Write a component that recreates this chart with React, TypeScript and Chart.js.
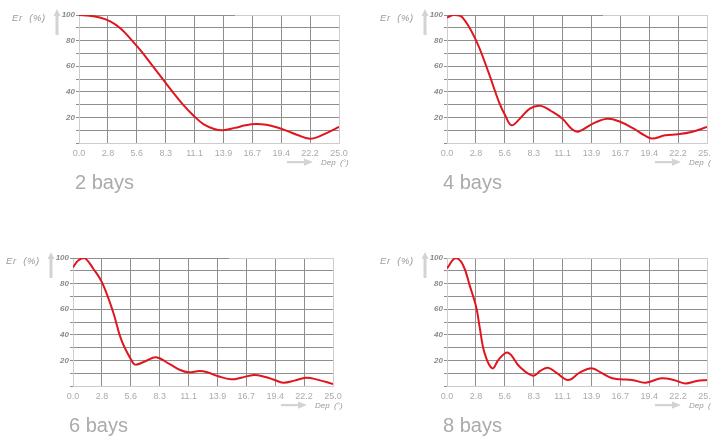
import React, { useEffect, useRef } from "react";
import { Chart, registerables } from "chart.js";

Chart.register(...registerables);

// ---------- data ----------
const X_MAX = 25;
const X_TICK_LABELS = ["0.0", "2.8", "5.6", "8.3", "11.1", "13.9", "16.7", "19.4", "22.2", "25.0"];
const Y_TICK_VALUES = [0, 10, 20, 30, 40, 50, 60, 70, 80, 90, 100];
const Y_TICK_LABELS = ["", "", "20", "", "40", "", "60", "", "80", "", "100"];

const TITLES = ["2 bays", "4 bays", "6 bays", "8 bays"];
const Y_AXIS_TITLE = "Er  (%)";
const X_AXIS_TITLE = "Dep  (°)";

const DEP_2BAYS = [0, 1, 2, 3, 4, 5, 6, 7, 8, 9, 10, 11, 12, 13, 13.8, 15, 16, 17, 18, 19, 20, 21, 22.2, 23, 24, 25];
const ER_2BAYS = [100, 99.5, 98, 95, 89.5, 81, 71.5, 61, 50.5, 40, 30, 21.5, 14.5, 11, 10, 11.8, 13.8, 14.8, 14.2, 12.3, 9.5, 6.3, 3.4, 4.8, 8.5, 12.5];

const DEP_4BAYS = [0, 0.7, 1.5, 2.8, 4, 5, 5.6, 6.2, 7, 8, 9, 10, 11.1, 12, 12.6, 13.9, 15.4, 16.7, 18, 19, 19.7, 21, 22.2, 23.5, 25];
const ER_4BAYS = [98, 100, 98, 80, 55, 32, 21.5, 13.8, 19, 27, 29, 25, 19, 11, 8.8, 14.6, 19, 16.4, 11, 6, 3.5, 6, 6.8, 8.6, 12.5];

const DEP_6BAYS = [0, 0.5, 1.1, 2, 2.8, 3.85, 4.65, 5.6, 6, 7, 8, 9.3, 10.3, 11.1, 12.2, 13, 13.9, 15.2, 16.2, 17.4, 18.5, 19.4, 20.2, 21.3, 22.4, 23.5, 25];
const ER_6BAYS = [92.7, 98, 100, 91, 80.7, 58, 36, 20.3, 16.7, 19.5, 22.4, 17, 12.5, 10.7, 11.7, 10.5, 7.8, 5.2, 6.5, 8.6, 7, 4.7, 2.6, 4.2, 6.5, 5, 1.6];

const DEP_8BAYS = [0, 0.83, 1.54, 2.2, 2.8, 3.14, 3.62, 4.36, 5, 5.87, 6.99, 8.27, 9, 9.7, 10.5, 11.63, 12.76, 13.9, 14.9, 15.9, 16.7, 17.8, 19.1, 20.6, 21.8, 22.9, 24, 25];
const ER_8BAYS = [92, 100, 94.5, 78, 62, 46, 25.5, 13.8, 21, 26, 15, 8, 12, 14.3, 10.5, 4.7, 10.4, 13.8, 10, 6, 5.2, 4.7, 2.6, 6, 4.7, 2, 3.9, 4.7];

// ---------- layout ----------
const AREA_W = 260;
const AREA_H = 128;
const PAD_L = 60;
const PAD_T = 15;
const PAD_R = 25;
const PAD_B = 15;
const Y_AXIS_W = 28;
const X_AXIS_H = 20;
const CANVAS_W = PAD_L + AREA_W + PAD_R;
const CANVAS_H = PAD_T + AREA_H + X_AXIS_H + PAD_B;

const PANELS = [
  { title: TITLES[0], dep: DEP_2BAYS, er: ER_2BAYS, left: 79, top: 15, topDark: 0.6 },
  { title: TITLES[1], dep: DEP_4BAYS, er: ER_4BAYS, left: 447, top: 15, topDark: 0.6 },
  { title: TITLES[2], dep: DEP_6BAYS, er: ER_6BAYS, left: 73, top: 258, topDark: 0.6 },
  { title: TITLES[3], dep: DEP_8BAYS, er: ER_8BAYS, left: 447, top: 258, topDark: 0 },
];

const GRID_DARK = "#8e8e8e";
const GRID_LIGHT = "#cdcdcd";
const LINE_RED = "#e0161f";
const FONT = "'Liberation Sans', Arial, Helvetica, sans-serif";

const topLinePlugin = {
  id: "topLine",
  beforeDatasetsDraw(chart: any, _args: any, opts: any) {
    const frac = opts && opts.frac;
    if (!frac) return;
    const { left, right } = chart.chartArea;
    const y = Math.floor(chart.scales.y.getPixelForValue(100)) + 0.5;
    const ctx = chart.ctx;
    ctx.save();
    ctx.strokeStyle = GRID_DARK;
    ctx.lineWidth = 1;
    ctx.beginPath();
    ctx.moveTo(left, y);
    ctx.lineTo(left + (right - left) * frac, y);
    ctx.stroke();
    ctx.restore();
  },
};

function Panel({ spec }: { spec: (typeof PANELS)[number] }) {
  const ref = useRef<HTMLCanvasElement | null>(null);
  useEffect(() => {
    if (!ref.current) return;
    const nX = X_TICK_LABELS.length;
    const chart = new Chart(ref.current, {
      type: "line",
      data: {
        datasets: [
          {
            data: spec.dep.map((d, i) => ({ x: d, y: spec.er[i] })),
            borderColor: LINE_RED,
            borderWidth: 2,
            pointRadius: 0,
            tension: 0.4,
            fill: false,
          },
        ],
      },
      options: {
        animation: false,
        responsive: false,
        events: [],
        layout: {
          padding: { left: PAD_L - Y_AXIS_W, top: PAD_T, right: PAD_R, bottom: PAD_B },
        },
        plugins: {
          legend: { display: false },
          tooltip: { enabled: false },
          topLine: { frac: spec.topDark },
        } as any,
        scales: {
          x: {
            type: "linear",
            min: 0,
            max: X_MAX,
            afterBuildTicks: (s: any) => {
              s.ticks = X_TICK_LABELS.map((_, i) => ({ value: (i * X_MAX) / (nX - 1) }));
            },
            afterFit: (s: any) => {
              s.height = X_AXIS_H;
            },
            ticks: {
              autoSkip: false,
              maxRotation: 0,
              minRotation: 0,
              padding: 5,
              color: "#ababab",
              font: { family: FONT, size: 9 },
              callback: (_v: any, i: number) => X_TICK_LABELS[i],
            },
            grid: {
              drawTicks: false,
              lineWidth: 1,
              color: (c: any) =>
                c.index === 0 ? "rgba(0,0,0,0)" : c.index === nX - 1 ? GRID_LIGHT : GRID_DARK,
            },
            border: { color: GRID_LIGHT, width: 1 },
          },
          y: {
            type: "linear",
            min: 0,
            max: 100,
            afterBuildTicks: (s: any) => {
              s.ticks = Y_TICK_VALUES.map((v) => ({ value: v }));
            },
            afterFit: (s: any) => {
              s.width = Y_AXIS_W;
            },
            ticks: {
              autoSkip: false,
              padding: 1,
              color: "#8a8a8a",
              font: {
                family: "'Liberation Sans Narrow', 'Arial Narrow', 'Liberation Sans', Arial, sans-serif",
                size: 8,
                style: "italic",
                weight: "bold",
              },
              callback: (_v: any, i: number) => Y_TICK_LABELS[i],
            },
            grid: {
              drawTicks: true,
              tickLength: 3,
              lineWidth: 1,
              tickColor: GRID_DARK,
              color: (c: any) =>
                c.tick && c.tick.value === 0
                  ? "rgba(0,0,0,0)"
                  : c.tick && c.tick.value === 100
                  ? GRID_LIGHT
                  : GRID_DARK,
            },
            border: { color: GRID_LIGHT, width: 1 },
          },
        },
      } as any,
      plugins: [topLinePlugin],
    });
    return () => chart.destroy();
  }, [spec]);
  return (
    <canvas
      ref={ref}
      width={CANVAS_W}
      height={CANVAS_H}
      style={{
        position: "absolute",
        left: spec.left - PAD_L,
        top: spec.top - PAD_T,
        width: CANVAS_W,
        height: CANVAS_H,
      }}
    />
  );
}

function Overlay() {
  const arrowCol = "#d3d3d3";
  return (
    <svg
      width={711}
      height={436}
      style={{ position: "absolute", left: 0, top: 0, pointerEvents: "none" }}
    >
      {PANELS.map((p, k) => {
        const ax = p.left - 22;
        const dx = p.left + 208;
        const dy = p.top + 147;
        return (
          <g key={k}>
            <text
              x={p.left - 67}
              y={p.top + 5.5}
              fontFamily={FONT}
              fontSize={9.5}
              fontStyle="italic"
              fill="#9a9a9a"
              letterSpacing={0.6}
              style={{ whiteSpace: "pre" }}
            >
              {Y_AXIS_TITLE}
            </text>
            <polygon
              points={`${ax - 3.5},${p.top + 1} ${ax},${p.top - 6} ${ax + 3.5},${p.top + 1}`}
              fill={arrowCol}
            />
            <rect x={ax - 1.5} y={p.top + 1} width={3} height={19} fill={arrowCol} />
            <rect x={dx} y={dy - 1} width={18} height={2.2} fill={arrowCol} />
            <polygon
              points={`${dx + 17},${dy - 3.5} ${dx + 26},${dy + 0.1} ${dx + 17},${dy + 3.7}`}
              fill={arrowCol}
            />
            <text
              x={dx + 34}
              y={dy + 3}
              fontFamily={FONT}
              fontSize={8}
              fontStyle="italic"
              fill="#9a9a9a"
              style={{ whiteSpace: "pre" }}
            >
              {X_AXIS_TITLE}
            </text>
            <text
              x={p.left - 4}
              y={p.top + 174}
              fontFamily={FONT}
              fontSize={20}
              fill="#ababab"
            >
              {p.title}
            </text>
          </g>
        );
      })}
    </svg>
  );
}

export default function App() {
  return (
    <div
      style={{
        position: "absolute",
        left: 0,
        top: 0,
        width: 711,
        height: 436,
        overflow: "hidden",
        background: "#ffffff",
      }}
    >
      {PANELS.map((p, k) => (
        <Panel key={k} spec={p} />
      ))}
      <Overlay />
    </div>
  );
}
